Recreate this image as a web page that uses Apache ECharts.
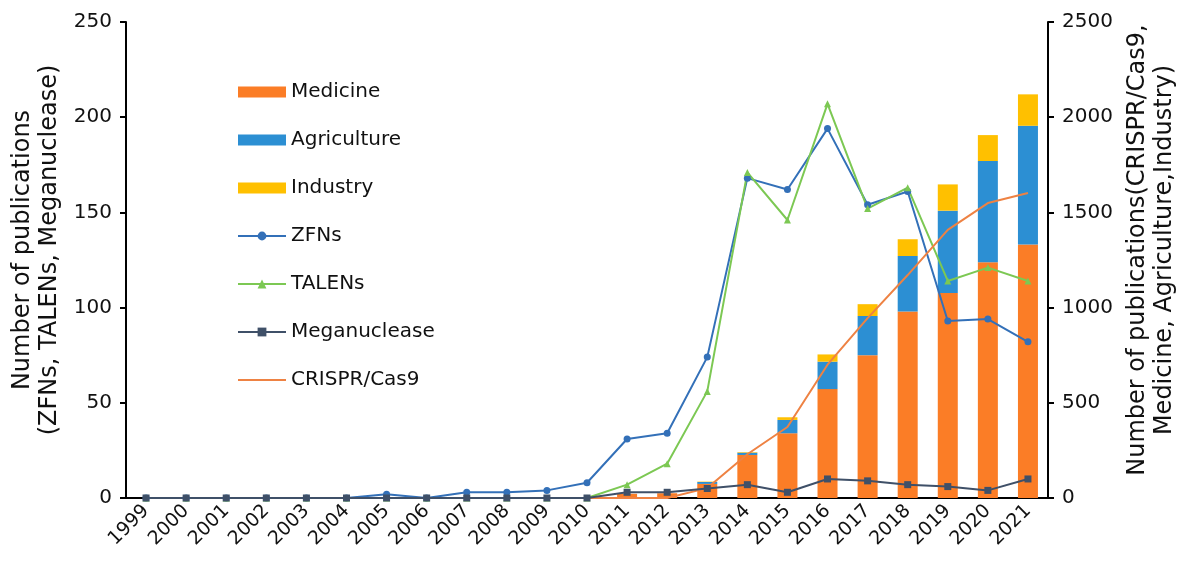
<!DOCTYPE html>
<html>
<head>
<meta charset="utf-8">
<script src="https://cdn.jsdelivr.net/npm/echarts@6/dist/echarts.min.js"></script>
<style>
  html, body { margin: 0; padding: 0; background: #fff; }
  #chart { width: 1188px; height: 561px; }
</style>
</head>
<body>
<div id="chart"></div>
<script>
// years on the x axis
var years = ["1999", "2000", "2001", "2002", "2003", "2004", "2005", "2006", "2007", "2008", "2009", "2010",
  "2011", "2012", "2013", "2014", "2015", "2016", "2017", "2018", "2019", "2020", "2021"];

// right axis (stacked bars + CRISPR line)
var medicine    = [0, 0, 0, 0, 0, 0, 0, 0, 0, 0, 0, 0, 22, 25, 74, 226, 340, 572, 750, 980, 1077, 1238, 1332];
var agriculture = [0, 0, 0, 0, 0, 0, 0, 0, 0, 0, 0, 0, 0, 0, 10, 12, 70, 144, 206, 291, 432, 532, 623];
var industry    = [0, 0, 0, 0, 0, 0, 0, 0, 0, 0, 0, 0, 0, 0, 2, 3, 14, 38, 62, 88, 138, 136, 165];
var crispr      = [0, 0, 0, 0, 0, 0, 0, 0, 0, 0, 0, 0, 0, 0, 52, 230, 373, 700, 945, 1171, 1408, 1549, 1602];

// left axis
var zfns         = [0, 0, 0, 0, 0, 0, 2, 0, 3, 3, 4, 8, 31, 34, 74, 168, 162, 194, 154, 161, 93, 94, 82];
var talens       = [0, 0, 0, 0, 0, 0, 0, 0, 0, 0, 0, 0, 7, 18, 56, 171, 146, 207, 152, 163, 114, 121, 114];
var meganuclease = [0, 0, 0, 0, 0, 0, 0, 0, 0, 0, 0, 0, 3, 3, 5, 7, 3, 10, 9, 7, 6, 4, 10];

var font = "DejaVu Sans, sans-serif";

var myChart = echarts.init(document.getElementById("chart"));
myChart.setOption({
  animation: false,
  textStyle: { fontFamily: font },
  grid: { left: 126, right: 140, top: 22, bottom: 63 },
  legend: {
    orient: "vertical",
    left: 232,
    top: 77,
    itemWidth: 48,
    itemHeight: 11,
    itemGap: 28,
    textStyle: { fontSize: 20, color: "#111", fontFamily: font },
    data: [
      { name: "Medicine", icon: "rect" },
      { name: "Agriculture", icon: "rect" },
      { name: "Industry", icon: "rect" },
      "ZFNs", "TALENs", "Meganuclease",
      { name: "CRISPR/Cas9", itemStyle: { opacity: 0 } }
    ]
  },
  xAxis: {
    type: "category",
    data: years,
    axisLine: { lineStyle: { color: "#000", width: 2 } },
    axisTick: { show: false },
    axisLabel: { rotate: 45, fontSize: 19, color: "#111", interval: 0, margin: 10 }
  },
  yAxis: [
    {
      type: "value",
      min: 0, max: 250, interval: 50,
      name: "Number of publications\n(ZFNs, TALENs, Meganuclease)",
      nameLocation: "middle",
      nameRotate: 90,
      nameGap: 62,
      nameTextStyle: { fontSize: 24, color: "#111", lineHeight: 27, padding: [0, 0, 0, 20] },
      axisLine: { show: true, lineStyle: { color: "#000", width: 2 } },
      axisTick: { show: true, length: 6, lineStyle: { color: "#000", width: 2 } },
      axisLabel: { fontSize: 20, color: "#111", margin: 14 },
      splitLine: { show: false }
    },
    {
      type: "value",
      min: 0, max: 2500, interval: 500,
      name: "Number of publications(CRISPR/Cas9,\nMedicine, Agriculture,Industry)",
      nameLocation: "middle",
      nameRotate: 90,
      nameGap: 75,
      nameTextStyle: { fontSize: 24, color: "#111", lineHeight: 27, padding: [0, 0, 0, 20] },
      axisLine: { show: true, lineStyle: { color: "#000", width: 2 } },
      axisTick: { show: true, length: 6, lineStyle: { color: "#000", width: 2 } },
      axisLabel: { fontSize: 20, color: "#111", margin: 14, formatter: function (v) { return String(v); } },
      splitLine: { show: false }
    }
  ],
  series: [
    {
      name: "Medicine", type: "bar", stack: "apps", yAxisIndex: 1, barWidth: 20,
      itemStyle: { color: "#FB7D26" }, data: medicine
    },
    {
      name: "Agriculture", type: "bar", stack: "apps", yAxisIndex: 1, barWidth: 20,
      itemStyle: { color: "#2C8FD3" }, data: agriculture
    },
    {
      name: "Industry", type: "bar", stack: "apps", yAxisIndex: 1, barWidth: 20,
      itemStyle: { color: "#FFC000" }, data: industry
    },
    {
      name: "ZFNs", type: "line", yAxisIndex: 0, symbol: "circle", symbolSize: 7,
      lineStyle: { color: "#3370B8", width: 2 }, itemStyle: { color: "#3370B8" }, data: zfns
    },
    {
      name: "TALENs", type: "line", yAxisIndex: 0, symbol: "triangle", symbolSize: 7,
      lineStyle: { color: "#7CC853", width: 2 }, itemStyle: { color: "#7CC853" }, data: talens
    },
    {
      name: "CRISPR/Cas9", type: "line", yAxisIndex: 1, symbol: "none",
      lineStyle: { color: "#EE8243", width: 2 }, itemStyle: { color: "#EE8243" }, data: crispr
    },
    {
      name: "Meganuclease", type: "line", yAxisIndex: 0, symbol: "rect", symbolSize: 7,
      lineStyle: { color: "#3F5068", width: 2 }, itemStyle: { color: "#3F5068" }, data: meganuclease
    }
  ]
});
</script>
</body>
</html>
